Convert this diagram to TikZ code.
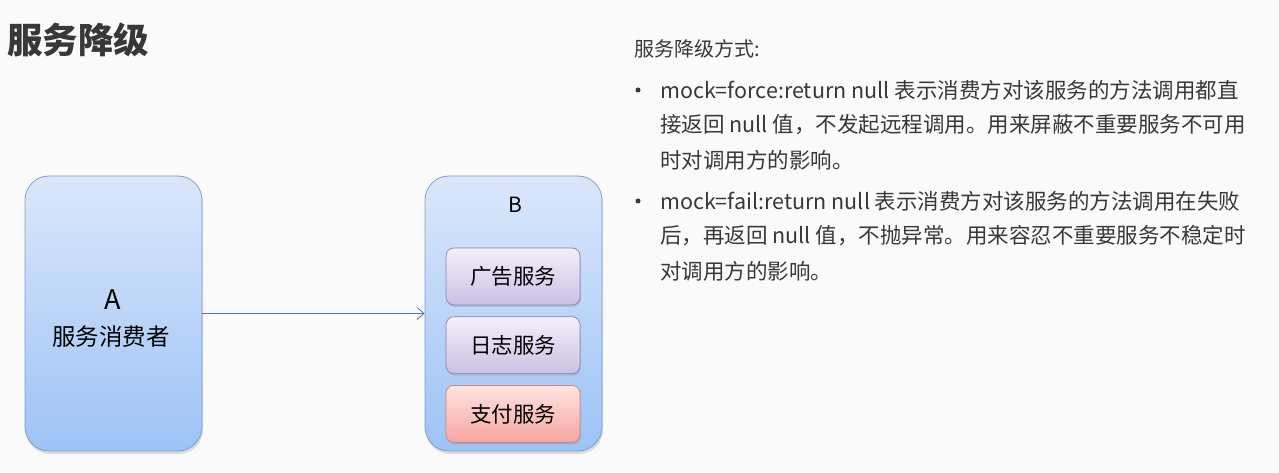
\documentclass[tikz,border=0pt]{standalone}
\usepackage{fontspec}
\setmainfont{Noto Sans CJK SC}
\usepackage{tikz}
\usetikzlibrary{arrows.meta,positioning,shadows}

\definecolor{outtop}{HTML}{DAE7FB}
\definecolor{outbot}{HTML}{9DC3F6}
\definecolor{outline}{HTML}{7E9FCC}
\definecolor{svctop}{HTML}{F4EFFA}
\definecolor{svcbot}{HTML}{CBC0E3}
\definecolor{svcline}{HTML}{9080B4}
\definecolor{paytop}{HTML}{FFE4E0}
\definecolor{paybot}{HTML}{F6A6A1}
\definecolor{payline}{HTML}{CC8580}
\definecolor{textgray}{HTML}{383838}
\definecolor{arrowblue}{HTML}{4A78B0}

\begin{document}
\begin{tikzpicture}[x=1pt,y=-1pt,>={Straight Barb[length=7pt,width=12pt]},
  host/.style={draw=outline,line width=0.8pt,rounded corners=24pt,
    top color=outtop,bottom color=outbot,minimum width=177pt,minimum height=275pt,
    drop shadow={shadow xshift=1pt,shadow yshift=-3pt,opacity=0.25}},
  svc/.style={draw=svcline,line width=0.7pt,rounded corners=8pt,
    top color=svctop,bottom color=svcbot,minimum width=134pt,minimum height=57pt,
    font=\fontsize{21.5}{25}\selectfont,text=black,
    drop shadow={shadow xshift=1pt,shadow yshift=-2pt,opacity=0.25}},
  pay/.style={svc,draw=payline,top color=paytop,bottom color=paybot},
  line/.style={anchor=west,inner sep=0pt,text=textgray,font=\fontsize{21.5}{25}\selectfont},
  dot/.style={circle,fill=textgray,inner sep=0pt,minimum size=5pt}]
  \fill[white!98!black] (0,0) rectangle (1279,473);
  \useasboundingbox (0,0) rectangle (1279,473);
  % title
  \node[anchor=west,inner sep=0pt,text=textgray,font=\fontsize{35.5}{40}\selectfont\bfseries]
    (title) at (7,40) {服务降级};
  % consumer and provider
  \node[host] (a) at (113.5,313.5) {};
  \node[host] (b) at (513.5,313.5) {};
  \node[font=\fontsize{27}{30}\selectfont] (aname) at (113,300) {A};
  \node[font=\fontsize{23.5}{27}\selectfont] (arole) at (111,337) {服务消费者};
  \node[font=\fontsize{21}{24}\selectfont] (bname) at (515,205) {B};
  \node[svc] (ad) at (513,276.5) {广告服务};
  \node[svc,below=11pt of ad] (log) {日志服务};
  \node[pay,below=11pt of log] (payment) {支付服务};
  \draw[->,arrowblue,line width=0.8pt] (a.east)--(b.west);
  % notes
  \node[line,font=\fontsize{20}{24}\selectfont] (head) at (634,49) {服务降级方式:};
  \node[dot] (d1) at (638,90) {};
  \node[line] (l1) at (660,90) {mock=force:return null 表示消费方对该服务的方法调用都直};
  \node[line] (l2) at (660,125) {接返回 null 值，不发起远程调用。用来屏蔽不重要服务不可用};
  \node[line] (l3) at (660,160) {时对调用方的影响。};
  \node[dot] (d2) at (638,201) {};
  \node[line] (l4) at (660,201) {mock=fail:return null 表示消费方对该服务的方法调用在失败};
  \node[line] (l5) at (660,236) {后，再返回 null 值，不抛异常。用来容忍不重要服务不稳定时};
  \node[line] (l6) at (660,271) {对调用方的影响。};
\end{tikzpicture}
\end{document}
